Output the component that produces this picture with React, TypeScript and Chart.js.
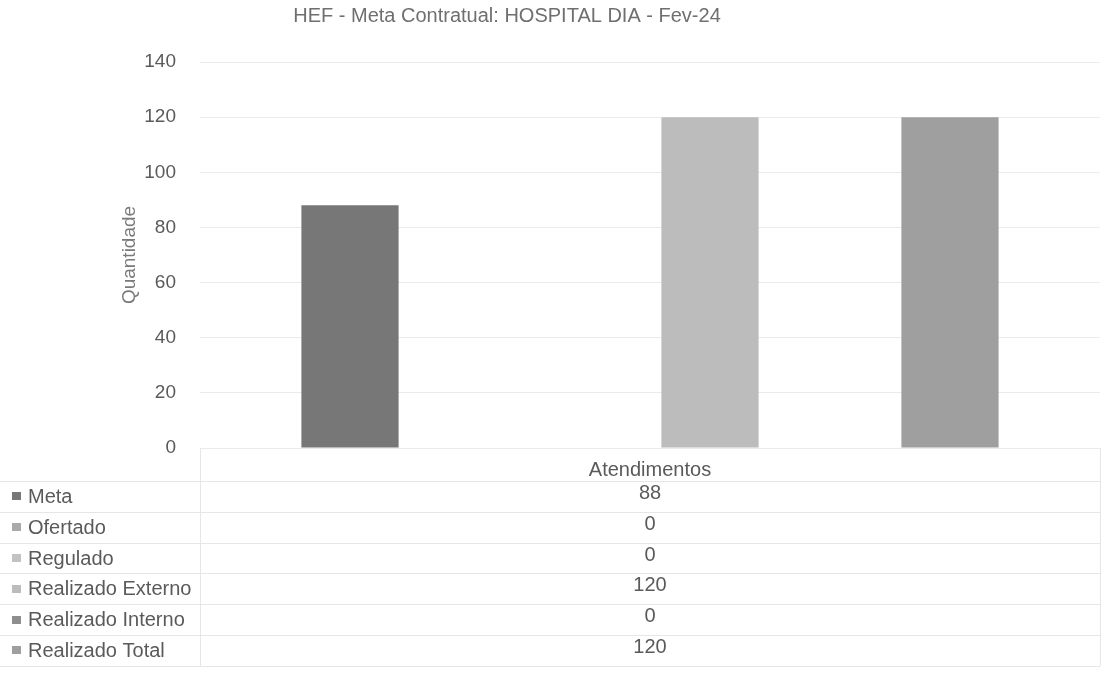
import React, { useEffect, useRef } from "react";
import { Chart, registerables } from "chart.js";

Chart.register(...registerables);

const TITLE = "HEF - Meta Contratual: HOSPITAL DIA - Fev-24";
const Y_TITLE = "Quantidade";
const categories = ["Atendimentos"];
const seriesNames = [
  "Meta",
  "Ofertado",
  "Regulado",
  "Realizado Externo",
  "Realizado Interno",
  "Realizado Total",
];
const meta = [88];
const ofertado = [0];
const regulado = [0];
const realizadoExterno = [120];
const realizadoInterno = [0];
const realizadoTotal = [120];
const seriesValues = [meta, ofertado, regulado, realizadoExterno, realizadoInterno, realizadoTotal];
const yMin = 0;
const yMax = 140;
const yStep = 20;

const seriesColors = ["#777777", "#a9a9a9", "#c2c2c2", "#bcbcbc", "#8e8e8e", "#9f9f9f"];

const FONT = "'Liberation Sans', Arial, sans-serif";

const extrasPlugin = {
  id: "extras",
  afterDraw(chart: any) {
    const ctx = chart.ctx;
    const xs = chart.scales.x;
    const area = chart.chartArea;
    ctx.save();
    // title
    ctx.fillStyle = "#6f6f6f";
    ctx.font = `20px ${FONT}`;
    ctx.textAlign = "center";
    ctx.textBaseline = "middle";
    ctx.fillText(TITLE, 507, 16);

    // data table
    const rowTop = area.bottom + 33;
    const rowH = 30.8;
    const n = chart.data.datasets.length;
    ctx.strokeStyle = "#e6e6e6";
    ctx.lineWidth = 1;
    for (let i = 0; i <= n; i++) {
      const y = Math.round(rowTop + rowH * i) + 0.5;
      ctx.beginPath();
      ctx.moveTo(0, y);
      ctx.lineTo(xs.right, y);
      ctx.stroke();
    }
    const vx = [Math.round(xs.left) + 0.5, Math.round(xs.right) + 0.5];
    vx.forEach((x) => {
      ctx.beginPath();
      ctx.moveTo(x, area.bottom);
      ctx.lineTo(x, rowTop + rowH * n);
      ctx.stroke();
    });

    chart.data.datasets.forEach((ds: any, i: number) => {
      const yc = rowTop + rowH * (i + 0.5);
      ctx.fillStyle = ds.backgroundColor;
      ctx.fillRect(12, Math.round(yc - 4), 9, 8);
      ctx.fillStyle = "#5a5a5a";
      ctx.font = `20px ${FONT}`;
      ctx.textAlign = "left";
      ctx.fillText(ds.label, 28, yc + 1);
      ctx.textAlign = "center";
      ds.data.forEach((v: number, j: number) => {
        ctx.fillText(String(v), xs.getPixelForValue(j), yc - 3);
      });
    });
    ctx.restore();
  },
};

export default function App() {
  const ref = useRef<HTMLCanvasElement>(null);
  useEffect(() => {
    if (!ref.current) return;
    const chart = new Chart(ref.current, {
      type: "bar",
      data: {
        labels: categories,
        datasets: seriesNames.map((name, i) => ({
          label: name,
          data: seriesValues[i],
          backgroundColor: seriesColors[i],
          borderWidth: 0,
          categoryPercentage: 0.8,
          barPercentage: 0.81,
        })),
      },
      options: {
        animation: false,
        responsive: false,
        devicePixelRatio: 1,
        layout: { padding: { left: 118, right: 7, top: 62, bottom: 0 } },
        plugins: {
          legend: { display: false },
          title: { display: false },
          tooltip: { enabled: false },
        },
        scales: {
          x: {
            grid: { display: false },
            border: { display: false },
            ticks: { color: "#5a5a5a", font: { family: FONT, size: 20 }, padding: 2 },
            afterFit: (s: any) => {
              s.height = 225;
            },
          },
          y: {
            min: yMin,
            max: yMax,
            ticks: {
              stepSize: yStep,
              color: "#5a5a5a",
              font: { family: FONT, size: 19 },
              padding: 24,
            },
            grid: { color: "#ebebeb", drawTicks: false },
            border: { display: false },
            title: {
              display: true,
              text: Y_TITLE,
              color: "#7a7a7a",
              font: { family: FONT, size: 19 },
              padding: 0,
            },
            afterFit: (s: any) => {
              s.width = 82;
            },
          },
        },
      },
      plugins: [extrasPlugin],
    });
    return () => chart.destroy();
  }, []);
  return (
    <div style={{ position: "fixed", left: 0, top: 0, width: 1107, height: 673, background: "#fff" }}>
      <canvas ref={ref} width={1107} height={673} style={{ display: "block" }} />
    </div>
  );
}
